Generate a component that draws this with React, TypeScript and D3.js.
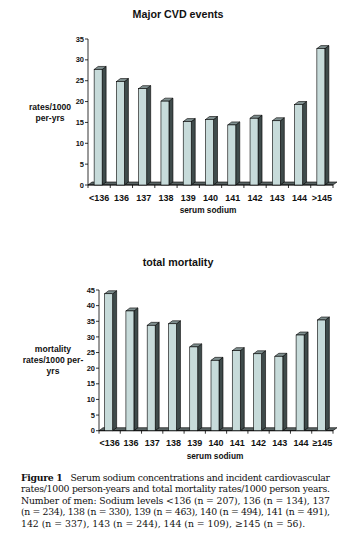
import React from "react";
import * as d3 from "d3";

const categoriesTop = ["<136", "136", "137", "138", "139", "140", "141", "142", "143", "144", ">145"];
const categoriesBottom = ["<136", "136", "137", "138", "139", "140", "141", "142", "143", "144", "≥145"];
const cvdValues = [27.7, 24.8, 23.1, 20.1, 15.2, 15.7, 14.4, 16.0, 15.4, 19.3, 32.7];
const mortalityValues = [43.8, 38.3, 33.7, 34.2, 26.8, 22.5, 25.6, 24.6, 23.8, 30.6, 35.4];
const cvdTicks = [0, 5, 10, 15, 20, 25, 30, 35];
const mortTicks = [0, 5, 10, 15, 20, 25, 30, 35, 40, 45];

const captionLines = [
  { bold: "Figure 1", rest: "   Serum sodium concentrations and incident cardiovascular", justify: true },
  { bold: "", rest: "rates/1000 person-years and total mortality rates/1000 person years.", justify: true },
  { bold: "", rest: "Number of men: Sodium levels <136 (n = 207), 136 (n = 134), 137", justify: true },
  { bold: "", rest: "(n = 234), 138 (n = 330), 139 (n = 463), 140 (n = 494), 141 (n = 491),", justify: true },
  { bold: "", rest: "142 (n = 337), 143 (n = 244), 144 (n = 109), ≥145 (n = 56).", justify: false },
];

const SANS = "Liberation Sans, Arial, sans-serif";
const INK = "#111";

type ChartProps = {
  cats: string[];
  values: number[];
  ticks: number[];
  yMax: number;
  x0: number;
  x1: number;
  yBottom: number;
  yTop: number;
  title: string;
  titleY: number;
  yLabel: string[];
  yLabelX: number;
  yLabelY: number;
  xLabelY: number;
  axisTitleX: number;
  axisTitleY: number;
};

function Bar3DChart(p: ChartProps) {
  const x = d3.scaleBand<string>().domain(p.cats).range([p.x0, p.x1]).paddingInner(0).paddingOuter(0);
  const y = d3.scaleLinear().domain([0, p.yMax]).range([p.yBottom, p.yTop]);
  const dx = 4;
  const dy = 3;
  const bw = 8;
  const front = "#c7dbda";
  const side = "#3f4b4b";
  const topc = "#7f8f8f";
  return (
    <g>
      <text x={178} y={p.titleY} textAnchor="middle" fontFamily={SANS} fontWeight="bold" fontSize={10.7} fill={INK}>
        {p.title}
      </text>
      <polygon
        points={`${p.x0},${y(0)} ${p.x1},${y(0)} ${p.x1 + dx},${y(0) - dy} ${p.x0 + dx},${y(0) - dy}`}
        fill="#5a6464"
        stroke="#000"
        strokeWidth={0.6}
      />
      <line x1={p.x0} x2={p.x0} y1={y(0)} y2={y(p.yMax)} stroke="#000" strokeWidth={0.8} />
      {p.ticks.map((t) => (
        <g key={t}>
          <line x1={p.x0 - 3} x2={p.x0} y1={y(t)} y2={y(t)} stroke="#000" strokeWidth={0.8} />
          <text x={p.x0 - 4} y={y(t) + 2.6} textAnchor="end" fontFamily={SANS} fontSize={7.5} fontWeight="bold" fill={INK}>
            {t}
          </text>
        </g>
      ))}
      <line x1={p.x0} x2={p.x1} y1={y(0)} y2={y(0)} stroke="#000" strokeWidth={0.8} />
      {p.cats.map((c) => (
        <line key={"t" + c} x1={x(c)!} x2={x(c)!} y1={y(0)} y2={y(0) + 3} stroke="#000" strokeWidth={0.8} />
      ))}
      <line x1={p.x1} x2={p.x1} y1={y(0)} y2={y(0) + 3} stroke="#000" strokeWidth={0.8} />
      {p.cats.map((c, i) => {
        const cx = x(c)! + x.bandwidth() / 2;
        const bx = cx - bw / 2 - 1;
        const by = y(p.values[i]);
        const base = y(0);
        return (
          <g key={c}>
            <polygon
              points={`${bx + bw},${base} ${bx + bw},${by} ${bx + bw + dx},${by - dy} ${bx + bw + dx},${base - dy}`}
              fill={side}
              stroke="#000"
              strokeWidth={0.6}
            />
            <polygon
              points={`${bx},${by} ${bx + bw},${by} ${bx + bw + dx},${by - dy} ${bx + dx},${by - dy}`}
              fill={topc}
              stroke="#000"
              strokeWidth={0.6}
            />
            <rect x={bx} y={by} width={bw} height={base - by} fill={front} stroke="#000" strokeWidth={0.6} />
          </g>
        );
      })}
      {p.cats.map((c) => (
        <text
          key={"l" + c}
          x={x(c)! + x.bandwidth() / 2}
          y={p.xLabelY}
          textAnchor="middle"
          fontFamily={SANS}
          fontSize={9}
          fontWeight="bold"
          fill={INK}
        >
          {c}
        </text>
      ))}
      <text x={p.axisTitleX} y={p.axisTitleY} textAnchor="middle" fontFamily={SANS} fontSize={8.3} fontWeight="bold" fill={INK}>
        serum sodium
      </text>
      {p.yLabel.map((l, i) => (
        <text
          key={l}
          x={p.yLabelX}
          y={p.yLabelY + i * 11}
          textAnchor="middle"
          fontFamily={SANS}
          fontSize={8.6}
          fontWeight="bold"
          fill={INK}
        >
          {l}
        </text>
      ))}
    </g>
  );
}

export default function App() {
  return (
    <svg width={355} height={549} style={{ position: "absolute", left: 0, top: 0, background: "#fff" }}>
      <rect width={355} height={549} fill="#fff" />
      <Bar3DChart
        cats={categoriesTop}
        values={cvdValues}
        ticks={cvdTicks}
        yMax={35}
        x0={88}
        x1={333}
        yBottom={185}
        yTop={39}
        title="Major CVD events"
        titleY={18}
        yLabel={["rates/1000", "per-yrs"]}
        yLabelX={50}
        yLabelY={110}
        xLabelY={200.5}
        axisTitleX={208}
        axisTitleY={213}
      />
      <Bar3DChart
        cats={categoriesBottom}
        values={mortalityValues}
        ticks={mortTicks}
        yMax={45}
        x0={99}
        x1={333}
        yBottom={430.7}
        yTop={290}
        title="total mortality"
        titleY={266}
        yLabel={["mortality", "rates/1000 per-", "yrs"]}
        yLabelX={53}
        yLabelY={352}
        xLabelY={445.5}
        axisTitleX={215}
        axisTitleY={458.5}
      />
      {captionLines.map((l, i) => (
        <text
          key={i}
          x={21}
          y={481 + i * 11.4}
          fontFamily="DejaVu Serif, serif"
          fontSize={9.3}
          textLength={l.justify ? 309 : undefined}
          lengthAdjust={l.justify ? "spacing" : undefined}
          xmlSpace="preserve"
          fill={INK}
        >
          {l.bold ? <tspan fontWeight="bold">{l.bold}</tspan> : null}
          {l.rest}
        </text>
      ))}
    </svg>
  );
}
